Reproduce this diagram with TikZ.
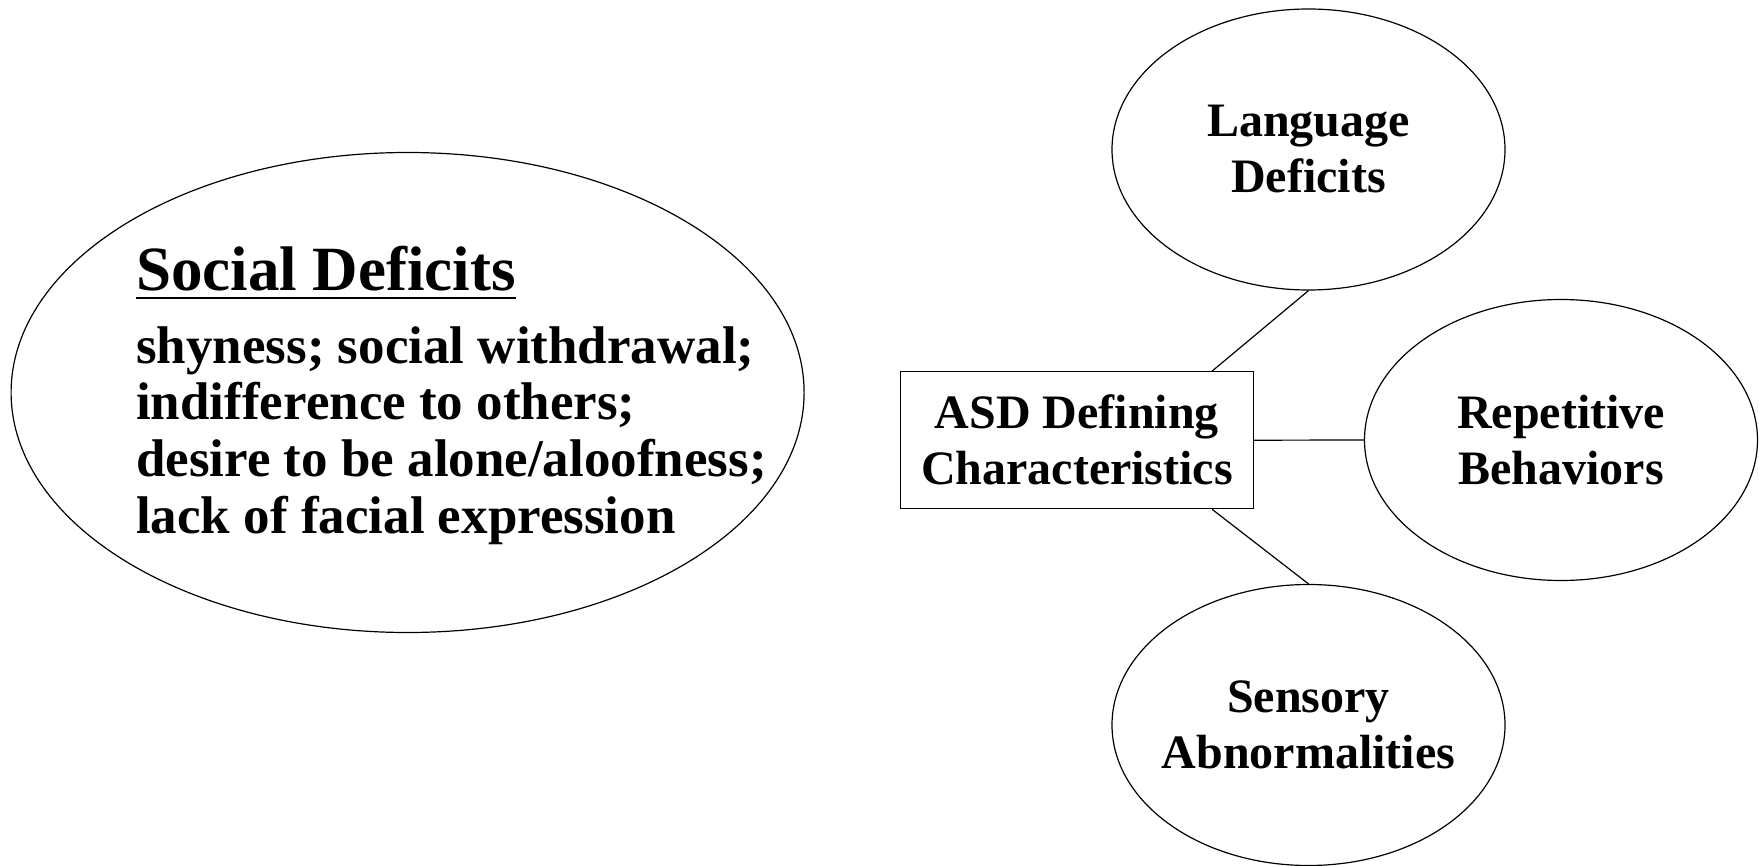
\documentclass[tikz,border=0pt]{standalone}
\usepackage{fontspec}
\setmainfont{Liberation Serif}
\usetikzlibrary{shapes.geometric}
\tikzset{
  bubble/.style={draw, line width=1.2pt, ellipse, inner sep=0pt},
  bubbletext/.style={inner sep=0pt, align=center, font=\fontsize{48}{56}\selectfont\bfseries},
  smallbubble/.style={bubble, minimum width=393pt, minimum height=281pt},
  centerbox/.style={draw, line width=1.3pt, rectangle, minimum width=353pt, minimum height=137pt,
    inner sep=0pt, align=center, font=\fontsize{48}{56}\selectfont\bfseries},
  link/.style={line width=1.2pt},
}
\begin{document}
\begin{tikzpicture}[x=1pt,y=-1pt]
\useasboundingbox (0,0) rectangle (1761,866);
\fill[white] (0,0) rectangle (1761,866);
% Social deficits
\node[bubble, minimum width=793pt, minimum height=480pt] (social) at (407.6,392.5) {};
\node[anchor=base west, inner sep=0pt, font=\fontsize{63}{70}\selectfont\bfseries] (title) at (136,290.7) {Social Deficits};
\draw[line width=2.6pt] ([yshift=-7.5pt]title.base west) -- ([yshift=-7.5pt]title.base east);
\node[anchor=base west, inner sep=0pt] (body) at (136,363.3)
  {\parbox[t]{720pt}{\fontsize{53}{56.7}\selectfont\bfseries
   shyness; social withdrawal;\\
   indifference to others;\\
   desire to be alone/aloofness;\\
   lack of facial expression}};
% Center box
\node[centerbox] (asd) at (1077,440.2) {ASD Defining\\Characteristics};
% Satellites
\node[smallbubble] (lang) at (1308.5,149.5) {};
\node[bubbletext] (langtext) at (lang.center) {Language\\Deficits};
\node[smallbubble] (rep) at (1561,440) {};
\node[bubbletext] (reptext) at (rep.center) {Repetitive\\Behaviors};
\node[smallbubble] (sens) at (1308.5,725) {};
\node[bubbletext] (senstext) at (sens.center) {Sensory\\Abnormalities};
% Connectors
\draw[link] ([xshift=-42pt]asd.north east) -- (lang.south);
\draw[link] (asd.east) -- (rep.west);
\draw[link] ([xshift=-42pt]asd.south east) -- (sens.north);
\end{tikzpicture}
\end{document}
